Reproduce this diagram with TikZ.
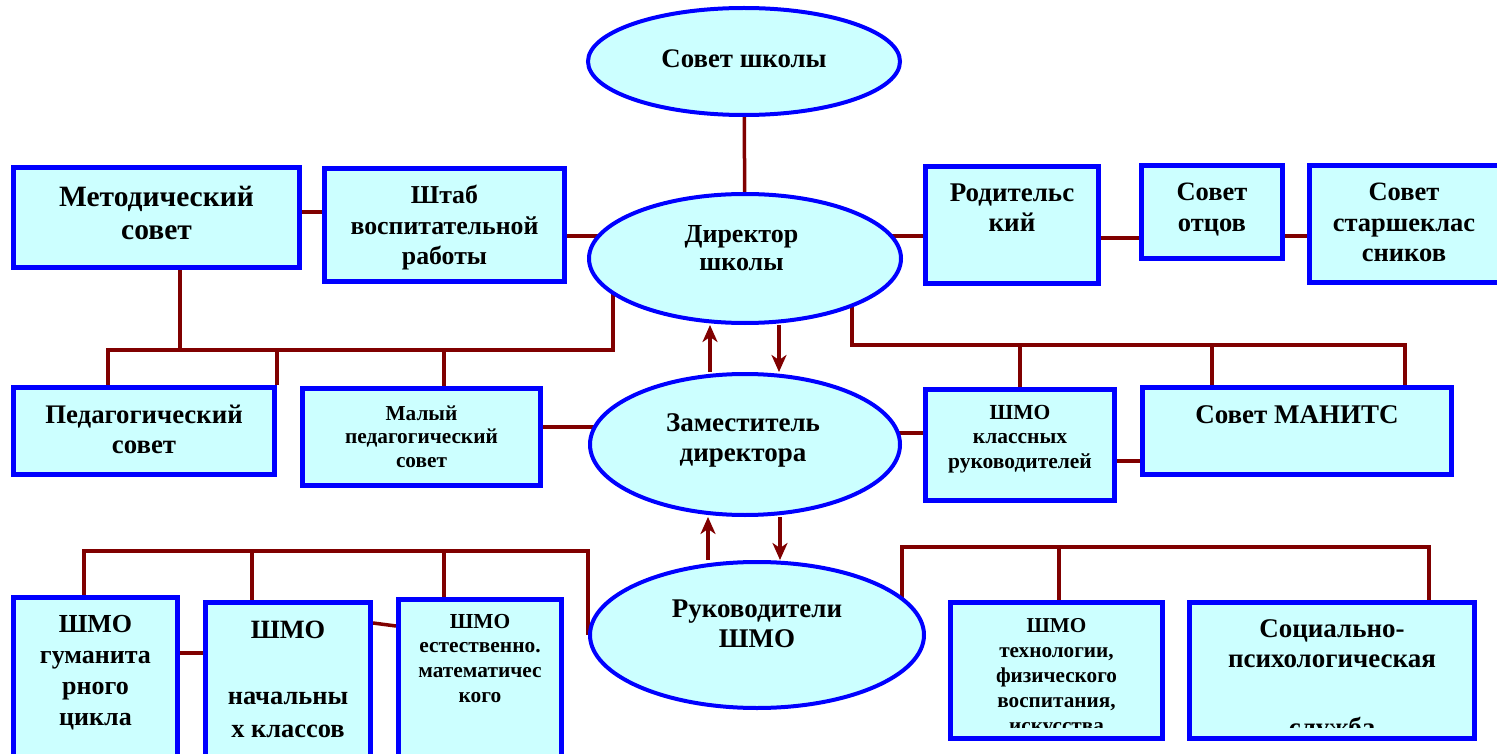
\documentclass[tikz,border=0pt]{standalone}
\usepackage{fontspec}
\setmainfont{Liberation Serif}
\usetikzlibrary{shapes.geometric,arrows.meta,backgrounds}
\definecolor{fillc}{HTML}{CCFFFF}
\definecolor{bordc}{HTML}{0000FF}
\definecolor{linec}{HTML}{800000}
\newcommand\ml[1]{\vtop{\halign{\hfil##\hfil\cr#1\crcr}}}
\tikzset{
  box/.style={draw=bordc, fill=fillc, line width=5pt, rectangle, inner sep=0pt},
  oval/.style={draw=bordc, fill=fillc, line width=4pt, ellipse, inner sep=0pt},
  conn/.style={draw=linec, line width=3.5pt},
  arr/.style={draw=linec, line width=4.5pt, -{Stealth[length=17pt,width=15pt,inset=5pt]}},
  txt/.style 2 args={font=\fontsize{#1}{#2}\selectfont\bfseries, anchor=base, inner sep=0pt, text=black},
}
\begin{document}
\begin{tikzpicture}[x=1pt,y=-1pt]
\useasboundingbox (0,0) rectangle (1497,754);
% ellipses
\node[oval, minimum width=312, minimum height=107] (sovet) at (744,61.5) {};
\node[oval, minimum width=312, minimum height=129] (dir) at (745,258.5) {};
\node[oval, minimum width=310, minimum height=141] (zam) at (745,444.5) {};
\node[oval, minimum width=334, minimum height=146] (ruk) at (757,635) {};
% boxes
\node[box, minimum width=286, minimum height=100] (metod) at (156.5,217.5) {};
\node[box, minimum width=240, minimum height=113] (shtab) at (444.5,225) {};
\node[box, minimum width=173, minimum height=117] (rodit) at (1012,225) {};
\node[box, minimum width=141, minimum height=93] (otcy) at (1212,212) {};
\node[box, minimum width=198, minimum height=117] (starsh) at (1408.5,224) {};
\node[box, minimum width=261, minimum height=87] (pedsov) at (144,431) {};
\node[box, minimum width=238, minimum height=97] (malyi) at (421.5,437) {};
\node[box, minimum width=189, minimum height=111] (shmokl) at (1020,445) {};
\node[box, minimum width=309, minimum height=87] (manits) at (1297,431) {};
\node[box, minimum width=164, minimum height=170] (gum) at (95.5,682.5) {};
\node[box, minimum width=165, minimum height=165] (nach) at (288,685) {};
\node[box, minimum width=163, minimum height=168] (estest) at (480,683.5) {};
\node[box, minimum width=212, minimum height=136] (tehn) at (1056.5,670.5) {};
\node[box, minimum width=285, minimum height=136] (soc) at (1332,670.5) {};
% bus coordinates
\coordinate (LA) at (613,350);
\coordinate (LB) at (108,350);
\coordinate (RA) at (852,345);
\coordinate (RB) at (1405,345);
\coordinate (BA) at (588,551);
\coordinate (BB) at (84,551);
\coordinate (CA) at (902,547);
\coordinate (CB) at (1429,547);
\begin{scope}[on background layer]
  \draw[conn] (sovet) -- (dir);
  \draw[conn] (metod.east |- 0,212) -- (shtab.west |- 0,212);
  \draw[conn] (shtab.east |- 0,236) -- (dir.center |- 0,236);
  \draw[conn] (dir.center |- 0,236) -- (rodit.west |- 0,236);
  \draw[conn] (rodit.east |- 0,238) -- (otcy.west |- 0,238);
  \draw[conn] (otcy.east |- 0,236) -- (starsh.west |- 0,236);
  % left bus
  \draw[conn] (dir.center -| LA) -- (LA) -- (LB) -- (pedsov.north -| LB);
  \draw[conn] (metod.south -| 180,0) -- (180,0 |- LA);
  \draw[conn] (277,0 |- LA) -- (pedsov.north -| 277,0);
  \draw[conn] (444,0 |- LA) -- (malyi.north -| 444,0);
  % right bus
  \draw[conn] (dir.center -| RA) -- (RA) -- (RB) -- (manits.north -| RB);
  \draw[conn] (1020,0 |- RA) -- (shmokl.north -| 1020,0);
  \draw[conn] (1212,0 |- RA) -- (manits.north -| 1212,0);
  % middle
  \draw[conn] (malyi.east |- 0,427) -- (zam.center |- 0,427);
  \draw[conn] (zam.center |- 0,433) -- (shmokl.west |- 0,433);
  \draw[conn] (shmokl.east |- 0,461) -- (manits.west |- 0,461);
  % bottom left bus
  \draw[conn] (ruk.west -| BA) -- (BA) -- (BB) -- (gum.north -| BB);
  \draw[conn] (252,0 |- BA) -- (nach.north -| 252,0);
  \draw[conn] (444,0 |- BA) -- (estest.north -| 444,0);
  \draw[conn] (gum.east |- 0,653) -- (nach.west |- 0,653);
  \draw[conn] (nach.east |- 0,623) -- (estest.west |- 0,626);
  % bottom right bus
  \draw[conn] (ruk.center -| CA) -- (CA) -- (CB) -- (soc.north -| CB);
  \draw[conn] (1059,0 |- CA) -- (tehn.north -| 1059,0);
\end{scope}
% arrows
\draw[arr] ([xshift=-35pt]zam.north) -- ([xshift=-35pt]dir.south);
\draw[arr] ([xshift=34pt]dir.south) -- ([xshift=34pt]zam.north);
\draw[arr] ([xshift=-49pt]ruk.north) -- ([xshift=-37pt]zam.south);
\draw[arr] ([xshift=35pt]zam.south) -- ([xshift=23pt]ruk.north);
% texts
\node[txt={26.8}{30}] (sovetT) at (744,68) {Совет школы};
\node[txt={26}{27.5}] (dirT) at (741.5,243) {\ml{Директор\cr школы}};
\node[txt={27}{30}] (zamT) at (743,431) {\ml{Заместитель\cr директора}};
\node[txt={27}{30}] (rukT) at (757,617) {\ml{Руководители\cr ШМО}};
\node[txt={29.5}{33}] (metodT) at (156.5,207) {\ml{Методический\cr совет}};
\node[txt={25.8}{30.5}] (shtabT) at (444.5,204) {\ml{Штаб\cr воспитательной\cr работы}};
\node[txt={27}{30}] (roditT) at (1012,202) {\ml{Родительс\cr кий}};
\node[txt={26.5}{31}] (otcyT) at (1212,201) {\ml{Совет\cr отцов}};
\node[txt={26.5}{30.5}] (starshT) at (1404,201) {\ml{Совет\cr старшеклас\cr сников}};
\node[txt={26.8}{30}] (pedsovT) at (144,423) {\ml{Педагогический\cr совет}};
\node[txt={21.3}{23.5}] (malyiT) at (421.5,420) {\ml{Малый\cr педагогический\cr совет}};
\node[txt={21.5}{24.5}] (shmoklT) at (1020,419) {\ml{ШМО\cr классных\cr руководителей}};
\node[txt={27}{30}] (manitsT) at (1297,423) {Совет МАНИТС};
\node[txt={26}{31}] (gumT) at (95.5,632) {\ml{ШМО\cr гуманита\cr рного\cr цикла}};
\node[txt={26.4}{33}] (nachT) at (288,638) {\ml{ШМО\cr\cr начальны\cr х классов}};
\node[txt={21.4}{24.7}] (estestT) at (480,628) {\ml{ШМО\cr естественно.\cr математичес\cr кого}};
\begin{scope}
  \clip (948,600) rectangle (1477,727);
  \node[txt={21.2}{25}] (tehnT) at (1056.5,632) {\ml{ШМО\cr технологии,\cr физического\cr воспитания,\cr искусства}};
  \node[txt={27}{30}] (socT) at (1332,637) {\ml{Социально-\cr психологическая\cr\cr\noalign{\vskip 9pt}служба}};
\end{scope}
\end{tikzpicture}
\end{document}
